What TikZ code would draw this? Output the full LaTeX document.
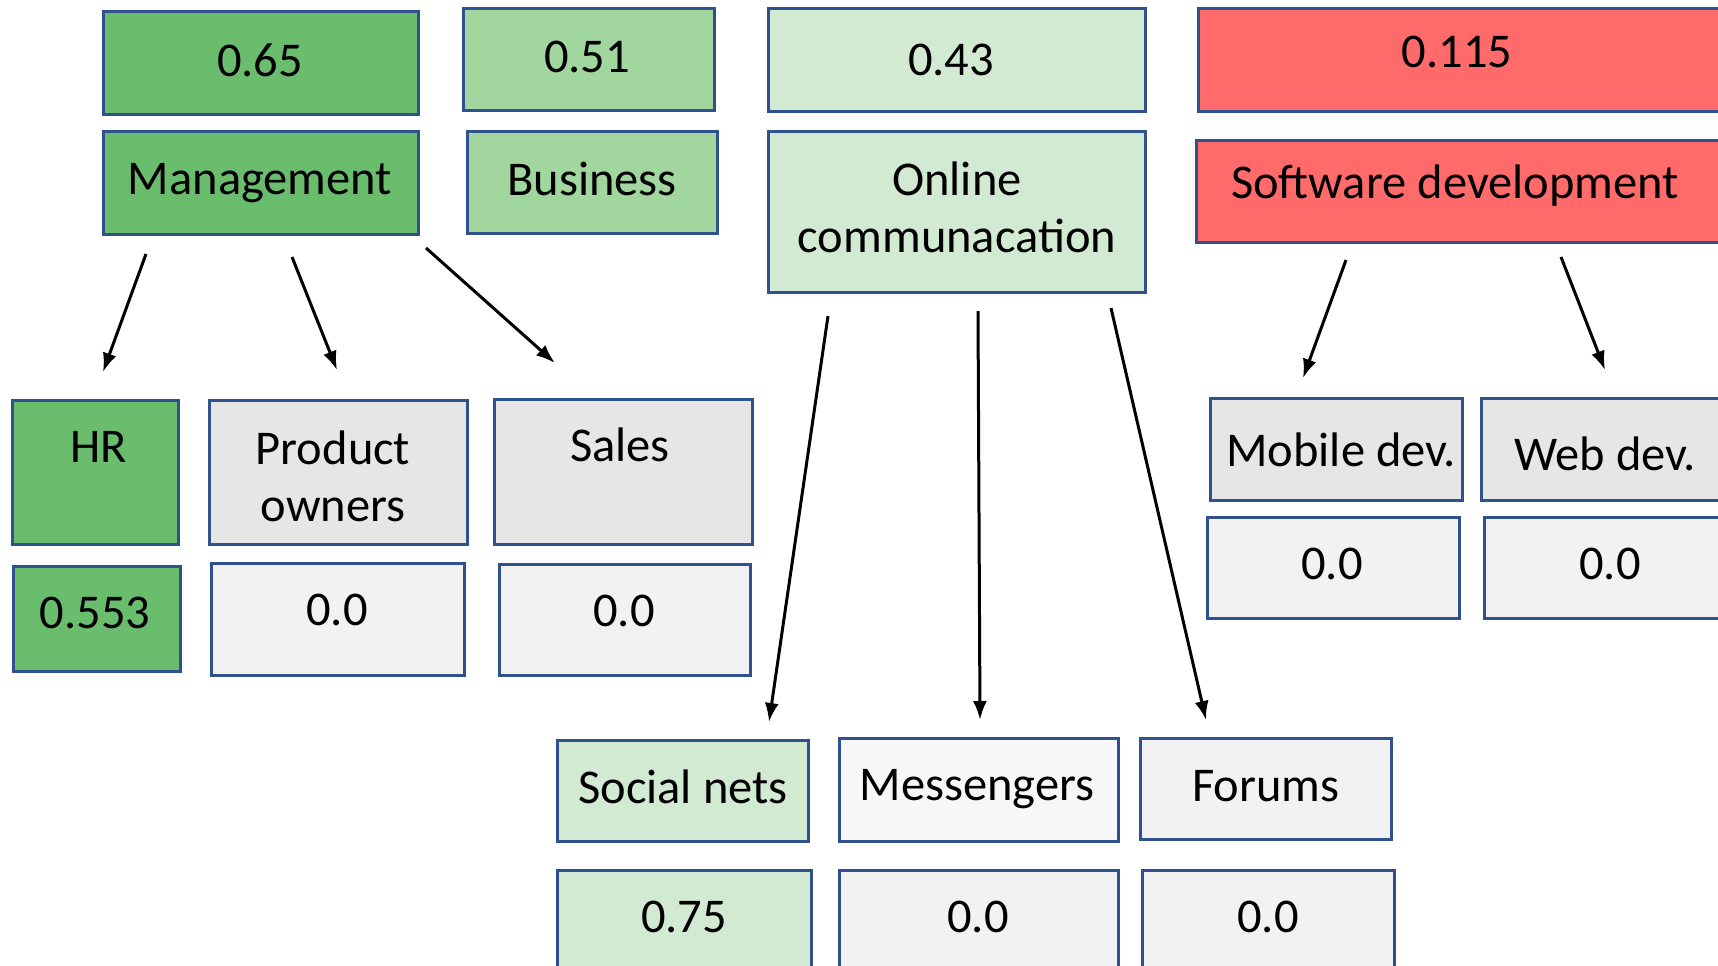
\documentclass[tikz,border=0pt]{standalone}
\usepackage{fontspec}
\setmainfont{Carlito}
\usetikzlibrary{arrows.meta}
\definecolor{gA}{RGB}{107,189,110}
\definecolor{gB}{RGB}{161,214,158}
\definecolor{gC}{RGB}{210,233,210}
\definecolor{rA}{RGB}{255,107,107}
\definecolor{gyA}{RGB}{230,230,230}
\definecolor{gyB}{RGB}{242,242,242}
\definecolor{gyC}{RGB}{247,247,247}
\definecolor{edgeblue}{RGB}{47,82,143}
\newcommand\mybox[6]{\node[box,fill=#6,minimum width={(#4-#2)*1pt},minimum height={(#5-#3)*1pt}] (#1) at ({(#2+#4)/2},{(#3+#5)/2}) {};}
\begin{document}
\begin{tikzpicture}[x=1pt,y=-1pt,
  box/.style={draw=edgeblue,line width=3pt,inner sep=0pt,outer sep=0pt,rectangle},
  lbl/.style={font=\fontsize{48.5}{57}\selectfont,align=center,inner sep=0pt},
  arr/.style={line width=3pt,-{Latex[length=19pt,width=14pt]}}]
\clip (0,0) rectangle (1718,966);
\fill[white] (0,0) rectangle (1718,966);
% top values
\mybox{vmgmt}{103}{12}{418}{114}{gA}
\mybox{vbus}{463}{9}{714}{110}{gB}
\mybox{vonl}{768}{9}{1145}{111}{gC}
\mybox{vsw}{1198}{9}{1726}{111}{rA}
% top labels
\mybox{mgmt}{103}{131}{418}{234}{gA}
\mybox{bus}{467}{131}{717}{233}{gB}
\mybox{onl}{768}{131}{1145}{292}{gC}
\mybox{sw}{1196}{140}{1726}{242}{rA}
% management children
\mybox{hr}{12}{400}{178}{544}{gA}
\mybox{prod}{209}{400}{467}{544}{gyA}
\mybox{sales}{494}{399}{752}{544}{gyA}
\mybox{vhr}{13}{566}{180}{671}{gA}
\mybox{vprod}{211}{563}{464}{675}{gyB}
\mybox{vsales}{499}{564}{750}{675}{gyB}
% software children
\mybox{mob}{1210}{398}{1462}{500}{gyA}
\mybox{web}{1481}{398}{1732}{500}{gyA}
\mybox{vmob}{1207}{517}{1459}{618}{gyB}
\mybox{vweb}{1484}{517}{1736}{618}{gyB}
% online children
\mybox{soc}{557}{740}{808}{841}{gC}
\mybox{mes}{839}{738}{1118}{841}{gyC}
\mybox{for}{1140}{738}{1391}{839}{gyB}
\mybox{vsoc}{557}{870}{811}{972}{gC}
\mybox{vmes}{839}{870}{1118}{972}{gyB}
\mybox{vfor}{1142}{870}{1394}{972}{gyB}
% texts
\node[lbl] (tvmgmt) at (260,60) {0.65};
\node[lbl] (tvbus) at (587,57) {0.51};
\node[lbl] (tvonl) at (951,60) {0.43};
\node[lbl] (tvsw) at (1457,52) {0.115};
\node[lbl] (tmgmt) at (260,183) {Management};
\node[lbl] (tbus) at (592,179) {Business};
\node[lbl] (tonl) at (957,207) {Online\\communacation};
\node[lbl] (tsw) at (1455,186) {Software development};
\node[lbl] (thr) at (99,447) {HR};
\node[lbl] (tprod) at (333,476) {Product\\owners};
\node[lbl] (tsales) at (620,445) {Sales};
\node[lbl] (tvhr) at (95,613) {0.553};
\node[lbl] (tvprod) at (337,610) {0.0};
\node[lbl] (tvsales) at (624,611) {0.0};
\node[lbl] (tmob) at (1341,450) {Mobile dev.};
\node[lbl] (tweb) at (1605,454) {Web dev.};
\node[lbl] (tvmob) at (1332,564) {0.0};
\node[lbl] (tvweb) at (1610,564) {0.0};
\node[lbl] (tsoc) at (683,787) {Social nets};
\node[lbl] (tmes) at (977,789) {Messengers};
\node[lbl] (tfor) at (1266,786) {Forums};
\node[lbl] (tvsoc) at (684,917) {0.75};
\node[lbl] (tvmes) at (978,917) {0.0};
\node[lbl] (tvfor) at (1268,917) {0.0};
% arrow end points
\coordinate (a1s) at (146,254); \coordinate (a1e) at (103,372);
\coordinate (a2s) at (292,257); \coordinate (a2e) at (337,370);
\coordinate (a3s) at (426,248); \coordinate (a3e) at (555,363);
\coordinate (b1s) at (828,316); \coordinate (b1e) at (769,722);
\coordinate (b2s) at (978,311); \coordinate (b2e) at (980,720);
\coordinate (b3s) at (1111,308); \coordinate (b3e) at (1206,720);
\coordinate (c1s) at (1346,260); \coordinate (c1e) at (1303,378);
\coordinate (c2s) at (1561,257); \coordinate (c2e) at (1605,370);
\draw[arr] (a1s) -- (a1e);
\draw[arr] (a2s) -- (a2e);
\draw[arr] (a3s) -- (a3e);
\draw[arr] (b1s) -- (b1e);
\draw[arr] (b2s) -- (b2e);
\draw[arr] (b3s) -- (b3e);
\draw[arr] (c1s) -- (c1e);
\draw[arr] (c2s) -- (c2e);
\end{tikzpicture}
\end{document}
